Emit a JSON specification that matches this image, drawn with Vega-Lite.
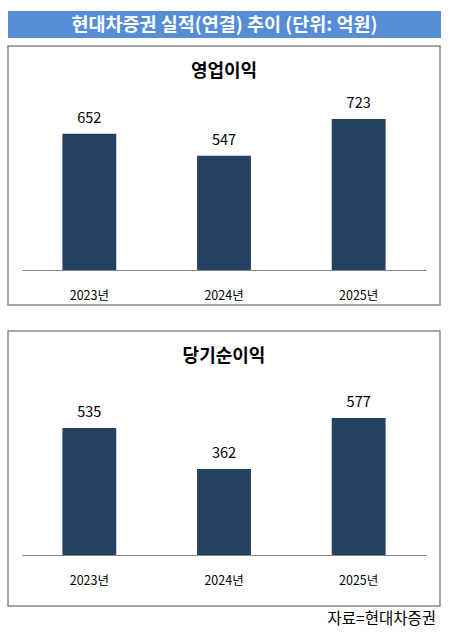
{
  "$schema": "https://vega.github.io/schema/vega-lite/v6.json",
  "padding": {"left": 7, "top": 11, "right": 0, "bottom": 0},
  "config": {
    "font": "Noto Sans CJK KR",
    "view": {"stroke": "#888888", "strokeWidth": 1.5},
    "concat": {"spacing": 7}
  },
  "title": {
    "text": "자료=현대차증권",
    "orient": "bottom",
    "anchor": "end",
    "fontSize": 15.5,
    "fontWeight": "normal",
    "color": "#000000",
    "offset": 5,
    "dx": -5
  },
  "datasets": {
    "banner": [{"label": "현대차증권 실적(연결) 추이 (단위: 억원)"}],
    "op": [
      {"year": "2023년", "value": 652},
      {"year": "2024년", "value": 547},
      {"year": "2025년", "value": 723}
    ],
    "ni": [
      {"year": "2023년", "value": 535},
      {"year": "2024년", "value": 362},
      {"year": "2025년", "value": 577}
    ]
  },
  "vconcat": [
    {
      "data": {"name": "banner"},
      "width": 433,
      "height": 27,
      "view": {"fill": "#558ED5", "stroke": null},
      "mark": {"type": "text", "color": "white", "fontSize": 18.5, "fontWeight": "bold"},
      "encoding": {"text": {"field": "label"}}
    },
    {
      "spacing": 24,
      "vconcat": [
        {
          "data": {"name": "op"},
          "width": 432,
          "height": 259,
          "title": {"text": "영업이익", "fontSize": 18, "fontWeight": "bold", "offset": -35, "anchor": "middle", "color": "#000000"},
          "encoding": {
            "x": {
              "field": "year",
              "type": "nominal",
              "sort": null,
              "scale": {"range": [14, 418], "paddingInner": 0.6, "paddingOuter": 0.3},
              "axis": {"title": null, "orient": "bottom", "offset": -35, "domainColor": "#888888", "ticks": false, "labelAngle": 0, "labelFontSize": 12.5, "labelColor": "#000000", "labelPadding": 19, "grid": false}
            },
            "y": {
              "field": "value",
              "type": "quantitative",
              "scale": {"domain": [-168, 1073], "nice": false},
              "axis": null
            }
          },
          "layer": [
            {"mark": {"type": "bar", "color": "#264061"}},
            {"mark": {"type": "text", "baseline": "bottom", "dy": -8, "fontSize": 14.5, "color": "#000000"}, "encoding": {"text": {"field": "value"}}}
          ]
        },
        {
          "data": {"name": "ni"},
          "width": 432,
          "height": 275,
          "title": {"text": "당기순이익", "fontSize": 18, "fontWeight": "bold", "offset": -35, "anchor": "middle", "color": "#000000"},
          "encoding": {
            "x": {
              "field": "year",
              "type": "nominal",
              "sort": null,
              "scale": {"range": [14, 418], "paddingInner": 0.6, "paddingOuter": 0.3},
              "axis": {"title": null, "orient": "bottom", "offset": -51, "domainColor": "#888888", "ticks": false, "labelAngle": 0, "labelFontSize": 12.5, "labelColor": "#000000", "labelPadding": 19, "grid": false}
            },
            "y": {
              "field": "value",
              "type": "quantitative",
              "scale": {"domain": [-215, 943], "nice": false},
              "axis": null
            }
          },
          "layer": [
            {"mark": {"type": "bar", "color": "#264061"}},
            {"mark": {"type": "text", "baseline": "bottom", "dy": -8, "fontSize": 14.5, "color": "#000000"}, "encoding": {"text": {"field": "value"}}}
          ]
        }
      ]
    }
  ]
}
